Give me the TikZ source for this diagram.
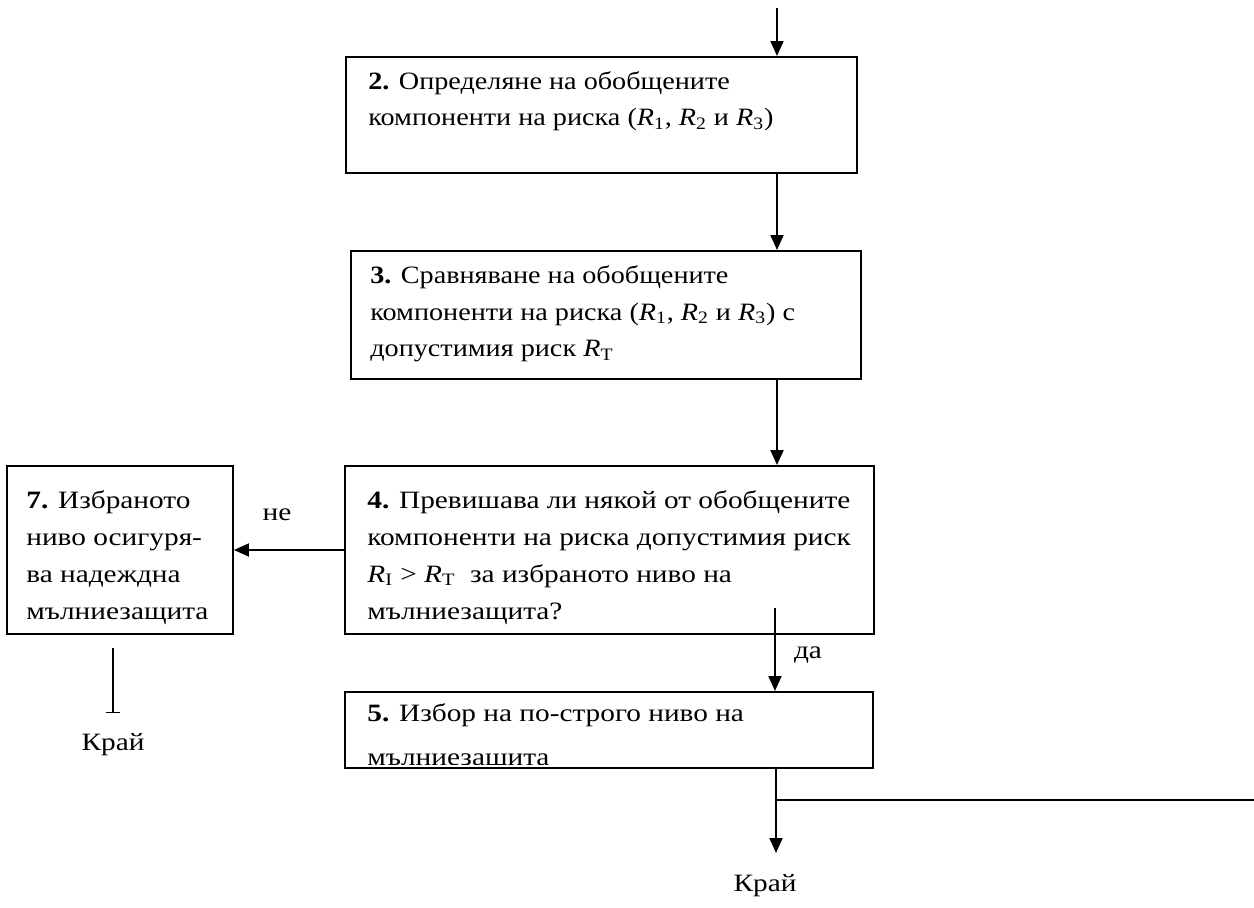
\documentclass[tikz,border=0pt]{standalone}
\usepackage{fontspec}
\setmainfont[FakeStretch=1.175]{Liberation Serif}
\newfontfamily\narrowrm[FakeStretch=1.13]{Liberation Serif}
\usetikzlibrary{arrows.meta,calc}
\newcommand{\Rsub}[1]{\textit{R}\textsubscript{#1}}
\begin{document}
\begin{tikzpicture}[x=0.02cm,y=-0.02cm,
    box/.style={draw,line width=0.04cm,inner sep=0pt},
    txt/.style={anchor=base west,align=left,inner sep=0pt,font=\fontsize{14.2}{21}\selectfont},
    txtn/.style={txt,font=\narrowrm\fontsize{14.2}{21}\selectfont},
    lbl/.style={inner sep=0pt,font=\fontsize{14.2}{21}\selectfont},
    arr/.style={line width=0.04cm,-{Triangle[length=0.3cm,width=0.26cm]}},
    thinline/.style={line width=0.03cm}]
    \useasboundingbox (0,0) rectangle (1254,908);
    % boxes
    \node[box,minimum width=10.22cm,minimum height=2.32cm] (b2) at (601.5,115) {};
    \node[box,minimum width=10.2cm,minimum height=2.56cm] (b3) at (606,315) {};
    \node[box,minimum width=10.58cm,minimum height=3.36cm] (b4) at (609.5,550) {};
    \node[box,minimum width=4.52cm,minimum height=3.36cm] (b7) at (120,550) {};
    \node[box,minimum width=10.56cm,minimum height=1.52cm] (b5) at (609,730) {};
    % texts (base = last line)
    \node[txtn] (t2) at (368,126) {\textbf{2.} Определяне на обобщените\\компоненти на риска (\Rsub{1}, \Rsub{2} и \Rsub{3})};
    \node[txtn] (t3) at (370,357) {\textbf{3.} Сравняване на обобщените\\компоненти на риска (\Rsub{1}, \Rsub{2} и \Rsub{3}) с\\допустимия риск \Rsub{T}};
    \node[txt] (t4) at (367,619) {\textbf{4.} Превишава ли някой от обобщените\\компоненти на риска допустимия риск\\\Rsub{I} > \Rsub{T}\ \ за избраното ниво на\\мълниезащита?};
    \node[txt] (t7) at (26,619) {\textbf{7.} Избраното\\ниво осигуря-\\ва надеждна\\мълниезащита};
    \begin{scope}
      \clip (b5.north west) rectangle ($(b5.south east)+(0,-4)$);
      \node[txt,font=\fontsize{14.2}{24.5}\selectfont] (t5) at (367,765) {\textbf{5.} Избор на по-строго ниво на\\мълниезащита};
    \end{scope}
    % connectors
    \coordinate (top) at (777,8);
    \draw[arr] (top) -- (b2.north -| top);
    \draw[arr] (b2.south -| top) -- (b3.north -| top);
    \draw[arr] (b3.south -| top) -- (b4.north -| top);
    \draw[arr] (b4.west) -- (b7.east);
    \node[lbl] (ne) at (277,515) {не};
    \coordinate (yes) at (775,608);
    \draw[arr] (yes) -- (b5.north -| yes);
    \node[lbl] (da) at (808,655) {да};
    \coordinate (ok) at (113,648);
    \coordinate (okend) at (113,713);
    \draw[thinline,-{Bar[width=0.28cm]}] (ok) -- (okend);
    \node[lbl] (end1) at (113,745) {Край};
    \coordinate (stop) at (776,853);
    \draw[arr] (b5.south -| stop) -- (stop);
    \node[lbl] (end2) at (765,886) {Край};
    \coordinate (branch) at (776,800);
    \coordinate (loop) at (1254,800);
    \draw[thinline] (branch) -- (loop);
\end{tikzpicture}
\end{document}
